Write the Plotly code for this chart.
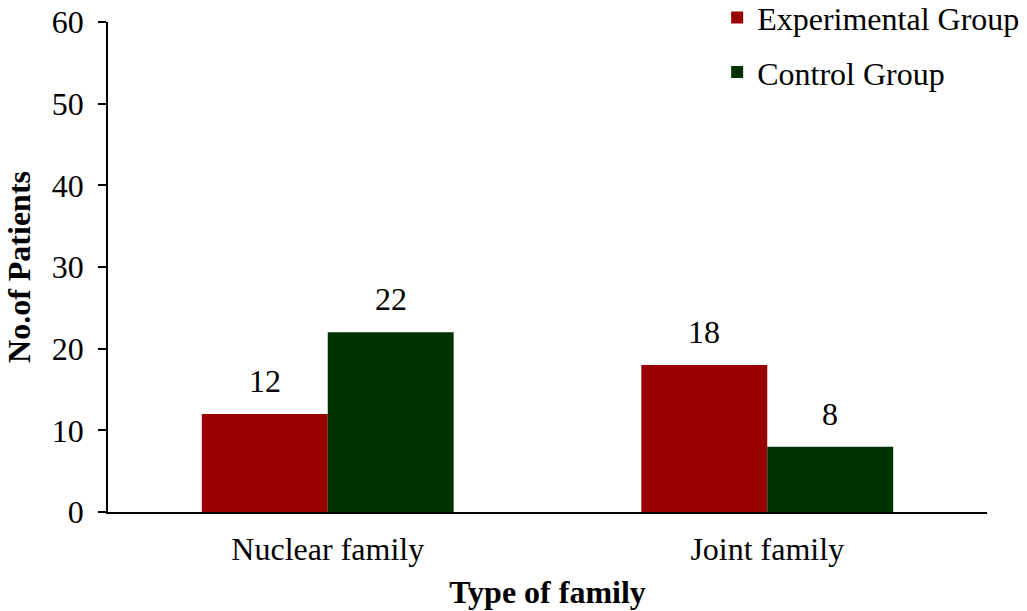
import plotly.graph_objects as go

categories = ["Nuclear family", "Joint family"]
experimental = [12, 18]
control = [22, 8]
y_ticks = [0, 10, 20, 30, 40, 50, 60]

font_family = "Liberation Serif, Times New Roman, serif"
fs = 32

fig = go.Figure()
fig.add_trace(go.Bar(
    name="Experimental Group", x=categories, y=experimental,
    marker=dict(color="#990000", line=dict(width=0)),
    legendgroup="a",
))
fig.add_trace(go.Bar(
    name="Control Group", x=categories, y=control,
    marker=dict(color="#003300", line=dict(width=0)),
    legendgroup="b",
))

# value labels above each bar (bars are ~126 px wide, offset half a bar from the category centre)
for values, shift in ((experimental, -63), (control, 63)):
    for cat, v in zip(categories, values):
        fig.add_annotation(
            x=cat, y=v, xref="x", yref="y", text=str(v), showarrow=False,
            xshift=shift, yshift=13, yanchor="bottom",
            font=dict(size=fs, family=font_family, color="black"),
        )

fig.update_layout(
    width=1027, height=611,
    margin=dict(l=108, r=40, t=22, b=99, autoexpand=False),
    paper_bgcolor="white", plot_bgcolor="white",
    font=dict(family=font_family, size=fs, color="black"),
    barmode="group", bargap=0.427, bargroupgap=0,
    showlegend=True,
    legend=dict(
        xref="paper", yref="paper",
        x=0.693, y=1.065, xanchor="left", yanchor="top",
        bgcolor="rgba(0,0,0,0)", font=dict(size=fs, family=font_family),
        tracegroupgap=10, itemwidth=30,
    ),
    xaxis=dict(
        showline=True, linecolor="black", linewidth=1.5,
        ticks="", showgrid=False, zeroline=False,
        tickfont=dict(size=fs), ticklabelstandoff=8,
        title=dict(text="<b>Type of family</b>", font=dict(size=fs), standoff=14),
    ),
    yaxis=dict(
        range=[0, 60], tickvals=y_ticks,
        showline=True, linecolor="black", linewidth=1.5,
        ticks="outside", ticklen=8, tickwidth=1.5, tickcolor="black",
        showgrid=False, zeroline=False,
        tickfont=dict(size=fs), ticklabelstandoff=8,
        title=dict(text="<b>No.of Patients</b>", font=dict(size=fs), standoff=12),
    ),
)

fig.write_html("out.html")
